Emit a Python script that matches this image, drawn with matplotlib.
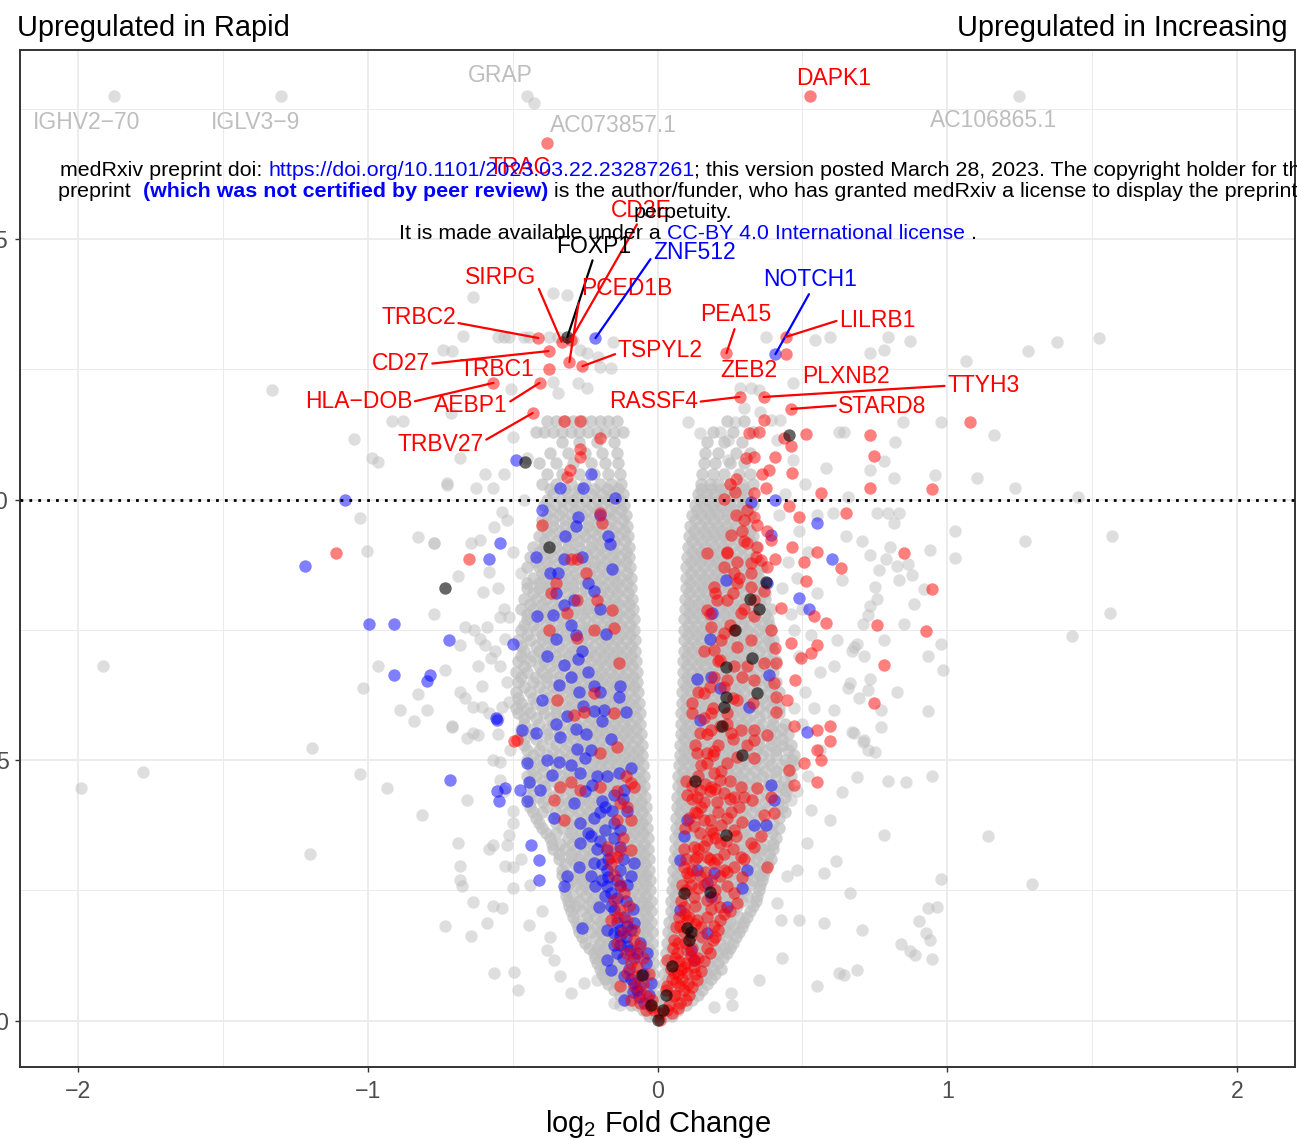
import numpy as np
import matplotlib
matplotlib.use("Agg")
import matplotlib.pyplot as plt

plt.rcParams["font.family"] = ["Liberation Sans", "DejaVu Sans"]
plt.rcParams["mathtext.default"] = "regular"

# ---------------- data ----------------
# bulk of the genes: one row per -log10(p) level, log2FC values of the left and right arm
core_p = [0.1, 0.3, 0.5, 0.7, 0.9, 1.1, 1.3, 1.5, 1.7, 1.9, 2.1, 2.3, 2.5, 2.7, 2.9,
          3.1, 3.3, 3.5, 3.7, 3.9, 4.1, 4.3, 4.5, 4.7, 4.9, 5.1, 5.3, 5.5, 5.7, 5.9,
          6.1, 6.3, 6.5, 6.7, 6.9, 7.1, 7.3, 7.5, 7.7, 7.9, 8.1, 8.3, 8.5, 8.7, 8.9,
          9.1, 9.3, 9.5, 9.7, 9.9, 10.1, 10.3, 10.5, 10.7, 10.9, 11.1, 11.3, 11.5]
core_left = [
    [-0.008, -0.03],
    [-0.012, -0.04, -0.07, -0.09],
    [-0.013, -0.04, -0.07, -0.10, -0.13],
    [-0.015, -0.045, -0.08, -0.11, -0.14, -0.17],
    [-0.016, -0.04, -0.07, -0.10, -0.13, -0.16, -0.19],
    [-0.017, -0.05, -0.08, -0.11, -0.14, -0.17, -0.21],
    [-0.018, -0.045, -0.075, -0.105, -0.135, -0.165, -0.195, -0.22],
    [-0.019, -0.05, -0.08, -0.11, -0.14, -0.17, -0.20, -0.25],
    [-0.02, -0.045, -0.075, -0.105, -0.135, -0.165, -0.195, -0.23, -0.27],
    [-0.021, -0.05, -0.08, -0.11, -0.14, -0.17, -0.20, -0.24, -0.28],
    [-0.022, -0.045, -0.075, -0.105, -0.135, -0.165, -0.195, -0.225, -0.26, -0.30],
    [-0.024, -0.05, -0.08, -0.11, -0.14, -0.17, -0.20, -0.23, -0.27, -0.31],
    [-0.025, -0.055, -0.085, -0.115, -0.145, -0.175, -0.205, -0.235, -0.265, -0.32],
    [-0.027, -0.05, -0.08, -0.11, -0.14, -0.17, -0.20, -0.23, -0.26, -0.29, -0.32],
    [-0.028, -0.055, -0.085, -0.115, -0.145, -0.175, -0.205, -0.235, -0.27, -0.33],
    [-0.03, -0.06, -0.09, -0.12, -0.15, -0.18, -0.21, -0.24, -0.27, -0.30, -0.34],
    [-0.032, -0.06, -0.09, -0.12, -0.15, -0.18, -0.21, -0.24, -0.28, -0.32, -0.36],
    [-0.034, -0.065, -0.095, -0.125, -0.155, -0.185, -0.215, -0.245, -0.275, -0.31, -0.37],
    [-0.036, -0.065, -0.095, -0.125, -0.155, -0.185, -0.215, -0.25, -0.29, -0.33, -0.40],
    [-0.038, -0.07, -0.10, -0.13, -0.16, -0.19, -0.22, -0.25, -0.28, -0.32, -0.36, -0.42],
    [-0.04, -0.07, -0.10, -0.13, -0.16, -0.19, -0.22, -0.25, -0.29, -0.33, -0.38, -0.44],
    [-0.043, -0.075, -0.105, -0.135, -0.165, -0.195, -0.225, -0.255, -0.285, -0.32, -0.36, -0.41, -0.45],
    [-0.045, -0.075, -0.105, -0.135, -0.165, -0.195, -0.225, -0.26, -0.30, -0.34, -0.39, -0.44],
    [-0.047, -0.08, -0.11, -0.14, -0.17, -0.20, -0.23, -0.26, -0.29, -0.33, -0.37, -0.42, -0.45],
    [-0.05, -0.08, -0.11, -0.14, -0.17, -0.20, -0.23, -0.27, -0.31, -0.35, -0.40, -0.44],
    [-0.052, -0.085, -0.115, -0.145, -0.175, -0.205, -0.235, -0.265, -0.30, -0.34, -0.38, -0.43],
    [-0.055, -0.085, -0.115, -0.145, -0.175, -0.205, -0.235, -0.27, -0.31, -0.35, -0.40, -0.46],
    [-0.057, -0.09, -0.12, -0.15, -0.18, -0.21, -0.24, -0.27, -0.30, -0.34, -0.38, -0.43, -0.47],
    [-0.06, -0.09, -0.12, -0.15, -0.18, -0.21, -0.24, -0.28, -0.32, -0.36, -0.41, -0.46],
    [-0.062, -0.095, -0.125, -0.155, -0.185, -0.215, -0.245, -0.275, -0.31, -0.35, -0.39, -0.44, -0.48],
    [-0.065, -0.095, -0.125, -0.155, -0.185, -0.215, -0.25, -0.29, -0.33, -0.37, -0.42, -0.47],
    [-0.067, -0.10, -0.13, -0.16, -0.19, -0.22, -0.25, -0.28, -0.31, -0.35, -0.39, -0.44, -0.49],
    [-0.07, -0.10, -0.13, -0.16, -0.19, -0.22, -0.26, -0.30, -0.34, -0.38, -0.43, -0.48],
    [-0.072, -0.105, -0.135, -0.165, -0.195, -0.225, -0.255, -0.285, -0.32, -0.36, -0.40, -0.45, -0.49],
    [-0.074, -0.105, -0.135, -0.165, -0.195, -0.23, -0.27, -0.31, -0.35, -0.39, -0.44, -0.48],
    [-0.076, -0.11, -0.14, -0.17, -0.20, -0.23, -0.26, -0.29, -0.33, -0.37, -0.41, -0.46],
    [-0.078, -0.11, -0.14, -0.17, -0.20, -0.24, -0.28, -0.32, -0.36, -0.40, -0.44, -0.48],
    [-0.08, -0.115, -0.145, -0.175, -0.205, -0.235, -0.265, -0.30, -0.34, -0.38, -0.42, -0.47],
    [-0.082, -0.115, -0.145, -0.175, -0.21, -0.25, -0.29, -0.33, -0.37, -0.41, -0.45],
    [-0.085, -0.12, -0.15, -0.18, -0.21, -0.24, -0.27, -0.31, -0.35, -0.39, -0.43, -0.47],
    [-0.087, -0.12, -0.15, -0.18, -0.22, -0.26, -0.30, -0.34, -0.38, -0.42, -0.46],
    [-0.09, -0.125, -0.155, -0.185, -0.215, -0.25, -0.29, -0.33, -0.37, -0.41, -0.45],
    [-0.092, -0.125, -0.155, -0.19, -0.23, -0.27, -0.31, -0.35, -0.39, -0.43],
    [-0.094, -0.13, -0.16, -0.19, -0.22, -0.25, -0.29, -0.33, -0.37, -0.41, -0.45],
    [-0.097, -0.13, -0.16, -0.20, -0.24, -0.28, -0.32, -0.36, -0.40, -0.44],
    [-0.10, -0.135, -0.165, -0.195, -0.23, -0.27, -0.31, -0.35, -0.39, -0.43],
    [-0.102, -0.135, -0.17, -0.21, -0.25, -0.29, -0.33, -0.37, -0.41],
    [-0.105, -0.14, -0.175, -0.21, -0.24, -0.28, -0.32, -0.36, -0.40],
    [-0.11, -0.145, -0.18, -0.22, -0.26, -0.30, -0.34, -0.38],
    [-0.115, -0.15, -0.19, -0.23, -0.27, -0.31, -0.35, -0.39],
    [-0.12, -0.155, -0.19, -0.23, -0.27, -0.31, -0.36],
    [-0.125, -0.16, -0.20, -0.25, -0.30, -0.35, -0.40],
    [-0.13, -0.17, -0.22, -0.27, -0.33, -0.38],
    [-0.135, -0.18, -0.23, -0.29, -0.35, -0.41],
    [-0.14, -0.19, -0.25, -0.31, -0.37],
    [-0.15, -0.21, -0.27, -0.33],
    [-0.12, -0.15, -0.18, -0.21, -0.24, -0.27, -0.30, -0.33, -0.36, -0.39, -0.42],
    [-0.14, -0.17, -0.20, -0.23, -0.26, -0.29, -0.32, -0.35, -0.38],
]
core_right = [
    [0.008, 0.03, 0.05],
    [0.012, 0.04, 0.07, 0.10],
    [0.015, 0.045, 0.075, 0.105, 0.14],
    [0.018, 0.045, 0.075, 0.105, 0.135, 0.17],
    [0.022, 0.05, 0.08, 0.11, 0.14, 0.17, 0.20],
    [0.026, 0.055, 0.085, 0.115, 0.145, 0.175, 0.21],
    [0.03, 0.06, 0.09, 0.12, 0.15, 0.18, 0.21, 0.24],
    [0.034, 0.065, 0.095, 0.125, 0.155, 0.185, 0.215, 0.26],
    [0.037, 0.065, 0.095, 0.125, 0.155, 0.185, 0.215, 0.245, 0.28],
    [0.041, 0.07, 0.10, 0.13, 0.16, 0.19, 0.22, 0.25, 0.30],
    [0.045, 0.075, 0.105, 0.135, 0.165, 0.195, 0.225, 0.26, 0.32],
    [0.048, 0.078, 0.108, 0.138, 0.168, 0.198, 0.228, 0.258, 0.29, 0.34],
    [0.05, 0.08, 0.11, 0.14, 0.17, 0.20, 0.23, 0.26, 0.30, 0.35],
    [0.053, 0.083, 0.113, 0.143, 0.173, 0.203, 0.233, 0.263, 0.293, 0.33, 0.36],
    [0.055, 0.085, 0.115, 0.145, 0.175, 0.205, 0.235, 0.265, 0.30, 0.34, 0.37],
    [0.057, 0.087, 0.117, 0.147, 0.177, 0.207, 0.237, 0.267, 0.30, 0.34, 0.39],
    [0.059, 0.09, 0.12, 0.15, 0.18, 0.21, 0.24, 0.27, 0.30, 0.33, 0.36, 0.40],
    [0.061, 0.09, 0.12, 0.15, 0.18, 0.21, 0.24, 0.27, 0.31, 0.35, 0.41],
    [0.063, 0.093, 0.123, 0.153, 0.183, 0.213, 0.243, 0.273, 0.303, 0.34, 0.38, 0.42],
    [0.065, 0.095, 0.125, 0.155, 0.185, 0.215, 0.245, 0.275, 0.31, 0.35, 0.42],
    [0.067, 0.097, 0.127, 0.157, 0.187, 0.217, 0.247, 0.277, 0.307, 0.34, 0.38, 0.43],
    [0.069, 0.10, 0.13, 0.16, 0.19, 0.22, 0.25, 0.28, 0.31, 0.35, 0.39, 0.44],
    [0.07, 0.10, 0.13, 0.16, 0.19, 0.22, 0.25, 0.28, 0.31, 0.34, 0.38, 0.42, 0.45],
    [0.072, 0.102, 0.132, 0.162, 0.192, 0.222, 0.252, 0.282, 0.32, 0.36, 0.41, 0.46],
    [0.074, 0.104, 0.134, 0.164, 0.194, 0.224, 0.254, 0.284, 0.314, 0.35, 0.39, 0.43, 0.47],
    [0.076, 0.106, 0.136, 0.166, 0.196, 0.226, 0.256, 0.286, 0.32, 0.36, 0.41, 0.47],
    [0.078, 0.108, 0.138, 0.168, 0.198, 0.228, 0.258, 0.288, 0.32, 0.35, 0.39, 0.43, 0.46],
    [0.08, 0.11, 0.14, 0.17, 0.20, 0.23, 0.26, 0.29, 0.33, 0.37, 0.41, 0.45],
    [0.081, 0.11, 0.14, 0.17, 0.20, 0.23, 0.26, 0.29, 0.32, 0.36, 0.40, 0.44],
    [0.082, 0.112, 0.142, 0.172, 0.202, 0.232, 0.262, 0.292, 0.33, 0.37, 0.42],
    [0.084, 0.114, 0.144, 0.174, 0.204, 0.234, 0.264, 0.294, 0.33, 0.37, 0.41],
    [0.086, 0.116, 0.146, 0.176, 0.206, 0.236, 0.266, 0.30, 0.34, 0.38, 0.42],
    [0.087, 0.117, 0.147, 0.177, 0.207, 0.237, 0.267, 0.30, 0.34, 0.38, 0.41],
    [0.088, 0.118, 0.148, 0.178, 0.208, 0.238, 0.27, 0.31, 0.35, 0.40],
    [0.089, 0.12, 0.15, 0.18, 0.21, 0.24, 0.27, 0.30, 0.34, 0.38, 0.41],
    [0.09, 0.12, 0.15, 0.18, 0.21, 0.24, 0.27, 0.31, 0.35, 0.40],
    [0.091, 0.121, 0.151, 0.181, 0.211, 0.241, 0.271, 0.30, 0.34, 0.38, 0.40],
    [0.092, 0.122, 0.152, 0.182, 0.212, 0.242, 0.272, 0.31, 0.35, 0.39],
    [0.093, 0.123, 0.153, 0.183, 0.213, 0.243, 0.273, 0.30, 0.34, 0.38],
    [0.094, 0.124, 0.154, 0.184, 0.214, 0.244, 0.274, 0.31, 0.35, 0.39],
    [0.095, 0.125, 0.155, 0.185, 0.215, 0.245, 0.275, 0.31, 0.34, 0.37],
    [0.097, 0.127, 0.157, 0.187, 0.217, 0.247, 0.28, 0.32, 0.36],
    [0.099, 0.13, 0.16, 0.19, 0.22, 0.25, 0.28, 0.31, 0.35],
    [0.10, 0.13, 0.16, 0.19, 0.22, 0.25, 0.28, 0.32, 0.36],
    [0.102, 0.132, 0.162, 0.192, 0.222, 0.252, 0.29, 0.33],
    [0.105, 0.135, 0.165, 0.195, 0.225, 0.255, 0.29, 0.34],
    [0.108, 0.14, 0.17, 0.20, 0.23, 0.26, 0.30, 0.33],
    [0.112, 0.145, 0.175, 0.205, 0.235, 0.27, 0.31],
    [0.12, 0.15, 0.18, 0.21, 0.24, 0.28, 0.32],
    [0.13, 0.16, 0.19, 0.22, 0.25, 0.29, 0.33],
    [0.14, 0.17, 0.20, 0.23, 0.27, 0.31],
    [0.15, 0.18, 0.21, 0.25, 0.29, 0.33],
    [0.155, 0.19, 0.23, 0.28, 0.32],
    [0.16, 0.20, 0.25, 0.30],
    [0.165, 0.21, 0.27, 0.32],
    [0.17, 0.23, 0.29],
    [0.19, 0.26, 0.33],
    [0.24, 0.30],
]

# second, interleaved set of rows of the bulk
core2_p = [0.2, 0.4, 0.6, 0.8, 1.0, 1.2, 1.4, 1.6, 1.8, 2.0, 2.2, 2.4, 2.6, 2.8, 3.0, 3.2, 3.4,
           3.6, 3.8, 4.0, 4.2, 4.4, 4.6, 4.8, 5.0, 5.2, 5.4, 5.6, 5.8, 6.0, 6.2, 6.4, 6.6, 6.8,
           7.0, 7.2, 7.4, 7.6, 7.8, 8.0, 8.2, 8.4, 8.6, 8.8, 9.0, 9.2, 9.4, 9.6, 9.8, 10.0, 10.2]
core2_left = [
    [-0.02, -0.05],
    [-0.025, -0.055, -0.085, -0.11],
    [-0.03, -0.06, -0.09, -0.12, -0.15],
    [-0.03, -0.06, -0.09, -0.12, -0.15, -0.18],
    [-0.03, -0.06, -0.09, -0.12, -0.15, -0.18, -0.20],
    [-0.032, -0.065, -0.095, -0.125, -0.155, -0.185, -0.215],
    [-0.033, -0.06, -0.09, -0.12, -0.15, -0.18, -0.21, -0.235],
    [-0.035, -0.065, -0.095, -0.125, -0.155, -0.185, -0.215, -0.26],
    [-0.035, -0.06, -0.09, -0.12, -0.15, -0.18, -0.21, -0.25, -0.275],
    [-0.036, -0.065, -0.095, -0.125, -0.155, -0.185, -0.215, -0.245, -0.29],
    [-0.036, -0.06, -0.09, -0.12, -0.15, -0.18, -0.21, -0.24, -0.28, -0.305],
    [-0.038, -0.065, -0.095, -0.125, -0.155, -0.185, -0.215, -0.25, -0.29, -0.315],
    [-0.04, -0.07, -0.10, -0.13, -0.16, -0.19, -0.22, -0.25, -0.28, -0.31],
    [-0.041, -0.065, -0.095, -0.125, -0.155, -0.185, -0.215, -0.245, -0.275, -0.305, -0.33],
    [-0.042, -0.07, -0.10, -0.13, -0.16, -0.19, -0.22, -0.25, -0.285, -0.32],
    [-0.045, -0.075, -0.105, -0.135, -0.165, -0.195, -0.225, -0.26, -0.30, -0.34],
    [-0.047, -0.075, -0.105, -0.135, -0.165, -0.195, -0.225, -0.26, -0.295, -0.335, -0.365],
    [-0.05, -0.08, -0.11, -0.14, -0.17, -0.20, -0.23, -0.265, -0.30, -0.35, -0.385],
    [-0.052, -0.08, -0.11, -0.14, -0.17, -0.20, -0.235, -0.27, -0.31, -0.35, -0.41],
    [-0.054, -0.085, -0.115, -0.145, -0.175, -0.205, -0.235, -0.27, -0.31, -0.35, -0.40, -0.43],
    [-0.056, -0.085, -0.115, -0.145, -0.175, -0.205, -0.235, -0.27, -0.305, -0.345, -0.395, -0.44],
    [-0.058, -0.09, -0.12, -0.15, -0.18, -0.21, -0.24, -0.27, -0.30, -0.34, -0.385, -0.43],
    [-0.06, -0.09, -0.12, -0.15, -0.18, -0.21, -0.245, -0.28, -0.32, -0.36, -0.40, -0.44],
    [-0.064, -0.095, -0.125, -0.155, -0.185, -0.215, -0.245, -0.28, -0.31, -0.35, -0.39, -0.43],
    [-0.066, -0.10, -0.13, -0.16, -0.19, -0.22, -0.25, -0.285, -0.32, -0.36, -0.41, -0.45],
    [-0.068, -0.10, -0.13, -0.16, -0.19, -0.22, -0.25, -0.285, -0.32, -0.36, -0.41, -0.45],
    [-0.07, -0.105, -0.135, -0.165, -0.195, -0.225, -0.255, -0.29, -0.33, -0.37, -0.42, -0.46],
    [-0.073, -0.105, -0.135, -0.165, -0.195, -0.225, -0.26, -0.30, -0.34, -0.38, -0.43, -0.47],
    [-0.075, -0.11, -0.14, -0.17, -0.20, -0.23, -0.26, -0.295, -0.33, -0.37, -0.42, -0.46],
    [-0.078, -0.11, -0.14, -0.17, -0.20, -0.23, -0.27, -0.31, -0.35, -0.40, -0.45, -0.49],
    [-0.08, -0.115, -0.145, -0.175, -0.205, -0.235, -0.265, -0.30, -0.34, -0.38, -0.43, -0.48],
    [-0.082, -0.115, -0.145, -0.175, -0.205, -0.24, -0.28, -0.32, -0.36, -0.41, -0.46],
    [-0.085, -0.12, -0.15, -0.18, -0.21, -0.24, -0.27, -0.30, -0.34, -0.38, -0.42, -0.47],
    [-0.087, -0.12, -0.15, -0.18, -0.21, -0.25, -0.29, -0.33, -0.37, -0.41, -0.46],
    [-0.09, -0.125, -0.155, -0.185, -0.215, -0.245, -0.275, -0.31, -0.35, -0.39, -0.43, -0.47],
    [-0.092, -0.125, -0.155, -0.185, -0.22, -0.26, -0.30, -0.34, -0.38, -0.42, -0.47],
    [-0.094, -0.13, -0.16, -0.19, -0.22, -0.25, -0.28, -0.32, -0.36, -0.40, -0.45],
    [-0.096, -0.13, -0.16, -0.19, -0.225, -0.265, -0.305, -0.345, -0.385, -0.43, -0.46],
    [-0.098, -0.135, -0.165, -0.195, -0.225, -0.26, -0.295, -0.33, -0.37, -0.41, -0.45],
    [-0.10, -0.135, -0.165, -0.20, -0.24, -0.28, -0.32, -0.36, -0.40, -0.44],
    [-0.102, -0.14, -0.17, -0.20, -0.235, -0.27, -0.31, -0.35, -0.39, -0.43],
    [-0.104, -0.14, -0.17, -0.21, -0.25, -0.29, -0.33, -0.37, -0.41, -0.45],
    [-0.106, -0.145, -0.175, -0.205, -0.24, -0.28, -0.32, -0.36, -0.40],
    [-0.108, -0.145, -0.18, -0.22, -0.26, -0.30, -0.34, -0.38, -0.42],
    [-0.11, -0.15, -0.18, -0.215, -0.25, -0.29, -0.33, -0.37, -0.41],
    [-0.113, -0.15, -0.19, -0.23, -0.27, -0.31, -0.35, -0.39],
    [-0.116, -0.155, -0.19, -0.225, -0.26, -0.30, -0.34, -0.38],
    [-0.12, -0.16, -0.20, -0.24, -0.28, -0.32, -0.36, -0.40],
    [-0.125, -0.165, -0.205, -0.245, -0.285, -0.33, -0.37],
    [-0.13, -0.17, -0.21, -0.25, -0.29, -0.33, -0.38],
    [-0.135, -0.175, -0.22, -0.27, -0.32, -0.37],
]
core2_right = [
    [0.02, 0.045, 0.07],
    [0.025, 0.055, 0.085, 0.12],
    [0.03, 0.06, 0.09, 0.12, 0.155],
    [0.035, 0.065, 0.095, 0.125, 0.155, 0.185],
    [0.04, 0.07, 0.10, 0.13, 0.16, 0.19, 0.22],
    [0.043, 0.07, 0.10, 0.13, 0.16, 0.19, 0.225],
    [0.047, 0.075, 0.105, 0.135, 0.165, 0.195, 0.23, 0.25],
    [0.05, 0.08, 0.11, 0.14, 0.17, 0.20, 0.235, 0.27],
    [0.053, 0.08, 0.11, 0.14, 0.17, 0.20, 0.23, 0.265, 0.29],
    [0.056, 0.085, 0.115, 0.145, 0.175, 0.205, 0.24, 0.28, 0.31],
    [0.06, 0.09, 0.12, 0.15, 0.18, 0.21, 0.24, 0.275, 0.33],
    [0.062, 0.093, 0.123, 0.153, 0.183, 0.213, 0.243, 0.275, 0.31, 0.345],
    [0.065, 0.095, 0.125, 0.155, 0.185, 0.215, 0.245, 0.28, 0.32, 0.355],
    [0.067, 0.098, 0.128, 0.158, 0.188, 0.218, 0.248, 0.278, 0.31, 0.35, 0.365],
    [0.069, 0.10, 0.13, 0.16, 0.19, 0.22, 0.25, 0.28, 0.32, 0.36, 0.38],
    [0.071, 0.10, 0.13, 0.16, 0.19, 0.22, 0.25, 0.285, 0.32, 0.35, 0.385],
    [0.073, 0.105, 0.135, 0.165, 0.195, 0.225, 0.255, 0.29, 0.33, 0.37, 0.40],
    [0.075, 0.107, 0.137, 0.167, 0.197, 0.227, 0.257, 0.29, 0.32, 0.36, 0.395],
    [0.077, 0.108, 0.138, 0.168, 0.198, 0.228, 0.258, 0.29, 0.33, 0.37, 0.40],
    [0.079, 0.11, 0.14, 0.17, 0.20, 0.23, 0.26, 0.29, 0.325, 0.36, 0.405, 0.44],
    [0.081, 0.112, 0.142, 0.172, 0.202, 0.232, 0.262, 0.295, 0.33, 0.37, 0.415],
    [0.083, 0.115, 0.145, 0.175, 0.205, 0.235, 0.265, 0.295, 0.33, 0.37, 0.41, 0.445],
    [0.085, 0.117, 0.147, 0.177, 0.207, 0.237, 0.267, 0.30, 0.34, 0.385, 0.435],
    [0.087, 0.12, 0.15, 0.18, 0.21, 0.24, 0.27, 0.30, 0.335, 0.37, 0.41, 0.45],
    [0.089, 0.12, 0.15, 0.18, 0.21, 0.24, 0.27, 0.30, 0.34, 0.385, 0.44, 0.465],
    [0.091, 0.122, 0.152, 0.182, 0.212, 0.242, 0.272, 0.305, 0.34, 0.37, 0.41, 0.45],
    [0.093, 0.125, 0.155, 0.185, 0.215, 0.245, 0.275, 0.31, 0.35, 0.39, 0.43],
    [0.095, 0.125, 0.155, 0.185, 0.215, 0.245, 0.275, 0.31, 0.35, 0.39, 0.43],
    [0.096, 0.127, 0.157, 0.187, 0.217, 0.247, 0.277, 0.31, 0.35, 0.40],
    [0.098, 0.13, 0.16, 0.19, 0.22, 0.25, 0.28, 0.31, 0.35, 0.39, 0.42],
    [0.099, 0.13, 0.16, 0.19, 0.22, 0.25, 0.28, 0.32, 0.36, 0.40],
    [0.10, 0.132, 0.162, 0.192, 0.222, 0.252, 0.285, 0.32, 0.36, 0.395],
    [0.101, 0.133, 0.163, 0.193, 0.223, 0.253, 0.29, 0.33, 0.375],
    [0.102, 0.135, 0.165, 0.195, 0.225, 0.255, 0.285, 0.32, 0.36, 0.395],
    [0.103, 0.135, 0.165, 0.195, 0.225, 0.255, 0.29, 0.33, 0.375],
    [0.104, 0.136, 0.166, 0.196, 0.226, 0.256, 0.285, 0.32, 0.36, 0.39],
    [0.105, 0.137, 0.167, 0.197, 0.227, 0.257, 0.29, 0.33, 0.37],
    [0.106, 0.138, 0.168, 0.198, 0.228, 0.258, 0.29, 0.32, 0.36, 0.385],
    [0.107, 0.14, 0.17, 0.20, 0.23, 0.26, 0.29, 0.33, 0.37],
    [0.108, 0.14, 0.17, 0.20, 0.23, 0.26, 0.29, 0.325, 0.355],
    [0.11, 0.142, 0.172, 0.202, 0.232, 0.262, 0.30, 0.34, 0.37],
    [0.112, 0.145, 0.175, 0.205, 0.235, 0.265, 0.30, 0.335],
    [0.114, 0.145, 0.175, 0.205, 0.235, 0.265, 0.30, 0.34],
    [0.116, 0.147, 0.177, 0.207, 0.237, 0.27, 0.31, 0.35],
    [0.118, 0.15, 0.18, 0.21, 0.24, 0.275, 0.315],
    [0.12, 0.155, 0.185, 0.215, 0.245, 0.28, 0.32],
    [0.125, 0.16, 0.19, 0.22, 0.25, 0.285, 0.32],
    [0.13, 0.165, 0.195, 0.225, 0.26, 0.30],
    [0.137, 0.17, 0.20, 0.235, 0.27, 0.31],
    [0.145, 0.175, 0.21, 0.25, 0.29],
    [0.15, 0.185, 0.22, 0.26, 0.30],
]

# scattered non-significant genes (log2FC, -log10 p)
grey_pts = [
    (-1.329, 12.10), (-0.915, 11.51), (-0.877, 11.51), (-1.049, 11.16), (-0.984, 10.80), (-0.963, 10.72),
    (-0.714, 11.66), (-0.680, 10.80), (-0.594, 10.49), (-0.725, 10.28), (-0.628, 10.22), (-0.566, 10.22),
    (-0.531, 10.49), (-0.497, 11.20), (-1.025, 9.65), (-0.825, 9.28), (-0.773, 9.17), (-1.001, 9.02),
    (-0.645, 9.17), (-0.611, 9.23), (-0.583, 8.61), (-0.690, 8.54), (-0.601, 8.23), (-0.773, 7.81),
    (-0.663, 7.56), (-0.587, 7.56), (-0.542, 7.75), (-0.514, 7.75), (-0.611, 7.33), (-0.680, 7.21),
    (-0.594, 7.21), (-0.525, 7.33), (-1.915, 6.81), (-0.966, 6.81), (-0.735, 6.73), (-0.618, 6.81),
    (-0.576, 6.96), (-0.542, 6.81), (-1.015, 6.39), (-0.825, 6.27), (-0.680, 6.31), (-0.663, 6.20),
    (-0.635, 6.02), (-0.604, 6.02), (-0.583, 5.91), (-0.535, 6.02), (-0.514, 6.12), (-0.887, 5.97),
    (-0.794, 5.97), (-0.842, 5.75), (-0.708, 5.64), (-0.638, 5.52), (-0.656, 5.43), (-0.618, 5.49),
    (-0.552, 5.51), (-1.191, 5.24), (-0.566, 5.01), (-0.542, 4.97), (-1.777, 4.78), (-1.028, 4.74),
    (-1.988, 4.47), (-0.932, 4.47), (-0.656, 4.24), (-0.542, 4.62), (-0.814, 3.95), (-0.497, 4.03),
    (-0.514, 3.57), (-0.687, 3.41), (-0.583, 3.30), (-0.566, 3.38), (-0.518, 3.38), (-1.198, 3.20),
    (-0.683, 2.97), (-0.525, 2.97), (-0.497, 2.95), (-0.680, 2.70), (-0.673, 2.59), (-0.497, 2.55),
    (-0.638, 2.28), (-0.566, 2.21), (-0.535, 2.17), (-0.732, 1.82), (-0.587, 1.88), (-0.645, 1.63),
    (-0.563, 0.92), (-0.494, 0.94), (-0.483, 0.59), (-0.709, 5.65), (-0.444, 1.84), (-0.381, 1.36),
    (-0.358, 1.17), (-0.335, 0.85), (-0.30, 0.53), (-0.254, 0.72), (-0.208, 0.79), (-0.151, 0.34),
    (-0.128, 0.31), (-0.772, 9.16), (-0.726, 10.31), (-0.536, 9.77), (-0.565, 9.48), (-0.634, 7.50),
    (-0.605, 6.42), (-0.52, 9.6), (-0.50, 9.0), (-0.55, 8.3), (-0.53, 7.9), (-0.56, 7.1), (-0.52, 6.5),
    (-0.55, 5.8), (-0.51, 5.2), (-0.53, 4.4), (-0.50, 3.8), (-0.47, 3.1), (-0.44, 2.6), (-0.40, 2.1),
    (-0.37, 1.6), (-0.47, 8.6), (-0.46, 10.0), (-0.45, 10.8),
    (-0.635, 13.89), (-0.359, 13.97), (-0.311, 13.93), (-0.670, 13.14), (-0.552, 13.12), (-0.531, 13.12),
    (-0.511, 13.12), (-0.462, 13.12), (-0.445, 13.12), (-0.373, 13.12), (-0.345, 13.12), (-0.290, 13.06),
    (-0.739, 12.87), (-0.708, 12.85), (-0.266, 12.87), (-0.242, 12.81), (-0.155, 13.03), (-0.207, 12.74),
    (-0.162, 12.53), (-0.197, 12.55), (-0.362, 12.26), (-0.345, 12.05), (-0.273, 12.24), (-0.245, 12.14),
    (-0.507, 12.12),
    (0.373, 13.12), (0.545, 13.06), (0.597, 13.12), (0.794, 13.12), (0.873, 13.04), (0.735, 12.81),
    (0.780, 12.87), (1.063, 12.66), (1.277, 12.85), (1.380, 13.03), (1.525, 13.10), (0.469, 12.24),
    (0.286, 12.14), (0.321, 12.14), (0.349, 12.10), (0.297, 11.76), (0.355, 11.68), (0.424, 11.53),
    (0.390, 11.53), (0.269, 11.49), (0.217, 11.30), (0.148, 11.28), (0.104, 11.49), (0.242, 11.15),
    (0.414, 11.15), (0.469, 10.76), (0.245, 10.76), (0.625, 11.30), (0.821, 11.11), (0.846, 11.49),
    (0.977, 11.49), (1.160, 11.24), (1.232, 10.22), (1.45, 10.05), (0.783, 10.74), (0.735, 10.57),
    (0.815, 10.42), (0.959, 10.47), (1.101, 10.42), (0.659, 10.05), (0.759, 9.74), (0.794, 9.74),
    (0.835, 9.74), (0.607, 9.74), (0.815, 9.55), (1.025, 9.40), (1.267, 9.21), (1.570, 9.30),
    (0.649, 9.30), (0.704, 9.21), (0.939, 9.04), (1.028, 8.88), (0.735, 8.94), (0.766, 8.65),
    (0.790, 8.86), (0.828, 8.73), (0.863, 8.77), (0.877, 8.56), (0.835, 8.46), (0.918, 8.29),
    (0.749, 8.33), (0.759, 8.10), (0.884, 8.00), (1.563, 7.83), (0.725, 7.79), (0.708, 7.62),
    (0.849, 7.62), (1.432, 7.39), (0.980, 7.23), (0.780, 7.31), (0.690, 7.23), (0.670, 7.10),
    (0.932, 7.00), (0.984, 6.73), (0.735, 6.56), (0.828, 6.31), (0.659, 6.39), (0.725, 6.35),
    (0.697, 6.20), (0.932, 5.95), (0.770, 5.64), (0.670, 5.54), (0.708, 5.35), (0.728, 5.20),
    (0.749, 5.16), (0.687, 4.68), (0.797, 4.60), (0.859, 4.58), (0.949, 4.70), (0.635, 4.39),
    (0.780, 3.57), (1.139, 3.55), (0.663, 2.46), (0.977, 2.72), (1.291, 2.63), (0.576, 1.88),
    (0.704, 1.75), (0.904, 1.92), (0.935, 2.17), (0.963, 2.19), (0.928, 1.69), (0.939, 1.55),
    (0.842, 1.48), (0.870, 1.34), (0.887, 1.27), (0.946, 1.19), (0.625, 0.92), (0.645, 0.88),
    (0.690, 0.98), (0.552, 0.67), (0.678, 5.52), (0.712, 5.39), (0.43, 1.20), (0.488, 1.94),
    (0.425, 1.94), (0.413, 2.26), (0.448, 2.77), (0.482, 2.90), (0.574, 2.83), (0.615, 3.06),
    (0.517, 3.41), (0.597, 3.86), (0.459, 4.24), (0.528, 4.05), (0.35, 0.79), (0.252, 0.53),
    (0.258, 0.31), (0.194, 0.27), (0.804, 9.10), (0.637, 8.46), (0.735, 7.95), (0.62, 7.31),
    (0.678, 7.18), (0.609, 6.80), (0.712, 6.99), (0.666, 6.48), (0.609, 5.97), (0.77, 5.97),
    (0.645, 11.3), (0.49, 9.4), (0.52, 9.0), (0.48, 8.5), (0.55, 8.2), (0.50, 7.9), (0.47, 7.5),
    (0.53, 7.4), (0.49, 7.0), (0.56, 6.7), (0.51, 6.3), (0.47, 6.0), (0.54, 6.0), (0.50, 5.7),
    (0.56, 5.2), (0.52, 4.7), (0.48, 4.4), (0.55, 9.7), (0.51, 10.3), (0.58, 10.6), (0.44, 10.1),
    (0.42, 9.7), (0.45, 8.8), (0.43, 8.3), (0.46, 7.8),
]

# significant, up in Increasing
red_pts = [
    (0.217, 5.65), (0.183, 5.58), (0.252, 5.52), (0.287, 5.58), (0.333, 5.58), (0.379, 5.49), (0.333, 5.39),
    (0.471, 5.65), (0.551, 5.58), (0.597, 5.65), (0.597, 5.36), (0.551, 5.20), (0.563, 5.01), (0.505, 4.94),
    (0.453, 4.81), (0.471, 4.53), (0.551, 4.59), (0.148, 5.52), (0.137, 5.13), (0.171, 5.13), (0.194, 5.17),
    (0.24, 4.94), (0.275, 5.07), (0.333, 5.04), (0.194, 4.75), (0.217, 4.62), (0.183, 4.49), (0.148, 4.43),
    (0.229, 4.37), (0.264, 4.30), (0.287, 4.49), (0.344, 4.46), (0.327, 4.24), (0.39, 4.30), (0.402, 3.98),
    (0.367, 3.95), (0.102, 4.34), (0.137, 4.30), (0.137, 3.98), (0.16, 3.86), (0.125, 3.73), (0.148, 3.60),
    (0.183, 3.66), (0.171, 3.47), (0.217, 3.41), (0.264, 3.66), (0.292, 3.82), (0.321, 3.41), (0.333, 3.34),
    (0.356, 3.54), (0.379, 2.96), (0.125, 3.34), (0.137, 3.15), (0.171, 3.15), (0.194, 3.02), (0.229, 2.90),
    (0.264, 2.96), (0.287, 3.15), (0.102, 2.83), (0.148, 2.77), (0.183, 2.70), (0.217, 2.77), (0.24, 2.58),
    (0.264, 2.45), (0.275, 2.26), (0.217, 2.19), (0.171, 2.32), (0.125, 2.38), (0.091, 2.19), (0.102, 1.94),
    (0.137, 1.94), (0.171, 2.00), (0.194, 1.81), (0.217, 1.94), (0.079, 1.81), (0.114, 1.62), (0.056, 1.55),
    (0.068, 1.30), (0.102, 1.36), (0.125, 1.17), (0.091, 1.04), (0.056, 0.91), (0.033, 0.66), (0.056, 0.47),
    (0.079, 0.34), (0.033, 0.21), (0.01, 0.15), (0.01, 0.02), (-0.013, 0.21), (0.102, 0.91), (0.125, 1.04),
    (0.137, 0.79), (0.079, 0.66), (0.033, 1.17),
    (-0.036, 0.47), (-0.024, 0.27), (-0.059, 0.53), (-0.082, 0.66), (-0.093, 0.40), (-0.128, 0.66),
    (-0.105, 0.91), (-0.07, 1.04), (-0.082, 1.30), (-0.059, 1.43), (-0.082, 1.75), (-0.105, 1.94),
    (-0.128, 2.13), (-0.151, 2.32), (-0.162, 1.94), (-0.139, 1.49), (-0.116, 2.45), (-0.128, 3.28),
    (-0.139, 3.15), (-0.162, 3.15), (-0.174, 3.34), (-0.093, 3.28), (-0.128, 4.18), (-0.139, 3.86),
    (-0.093, 3.86), (-0.105, 4.11), (-0.082, 4.49), (-0.093, 4.56), (-0.197, 4.49), (-0.266, 4.43),
    (-0.30, 4.59), (-0.335, 4.49), (-0.358, 4.24), (-0.323, 3.86), (-0.139, 5.26), (-0.197, 5.13),
    (-0.484, 5.39),
    (0.367, 11.52), (0.35, 11.30), (0.315, 11.27), (0.436, 11.18), (0.459, 11.02), (0.304, 10.79),
    (0.333, 10.82), (0.404, 10.82), (0.384, 10.57), (0.465, 10.51), (0.373, 10.22), (0.333, 10.12),
    (0.269, 10.15), (0.229, 10.01), (0.563, 10.12), (0.735, 11.24), (0.747, 10.84), (0.735, 10.22),
    (0.649, 9.74), (0.453, 9.87), (0.488, 9.66), (0.31, 9.80), (0.333, 9.67), (0.344, 9.51), (0.292, 9.39),
    (0.252, 9.32), (0.379, 9.39), (0.31, 9.16), (0.344, 9.10), (0.39, 9.23), (0.465, 9.10), (0.551, 9.00),
    (0.505, 8.81), (0.407, 8.86), (0.356, 8.84), (0.321, 8.78), (0.275, 8.81), (0.171, 8.97), (0.24, 8.97),
    (0.264, 8.59), (0.321, 8.59), (0.379, 8.71), (0.632, 8.68), (0.511, 8.43), (0.194, 8.33), (0.275, 8.40),
    (0.321, 8.33), (0.367, 8.24), (0.333, 8.08), (0.206, 8.08), (0.24, 8.08), (0.171, 7.88), (0.425, 7.92),
    (0.287, 7.82), (0.333, 7.76), (0.54, 7.76), (0.58, 7.63), (0.183, 7.56), (0.229, 7.44), (0.264, 7.50),
    (0.39, 7.50), (0.321, 7.31), (0.275, 7.18), (0.194, 7.12), (0.407, 7.15), (0.459, 7.24), (0.551, 7.21),
    (0.528, 7.05), (0.494, 6.96), (0.758, 7.60), (0.781, 6.83), (0.217, 6.92), (0.264, 6.80), (0.31, 6.80),
    (0.367, 6.86), (0.41, 6.86), (0.194, 6.60), (0.24, 6.54), (0.333, 6.54), (0.402, 6.48), (0.476, 6.54),
    (0.16, 6.29), (0.275, 6.16), (0.41, 6.22), (0.447, 6.16), (0.747, 6.09), (0.183, 5.90), (0.24, 5.90),
    (0.41, 5.93), (1.080, 11.49), (0.949, 10.21), (0.849, 8.98), (0.949, 8.29), (0.928, 7.48),
    (-0.323, 11.50), (-0.266, 11.50), (-0.20, 11.18), (-0.266, 10.98), (-0.266, 10.82), (-0.303, 10.57),
    (-0.312, 10.43), (-0.20, 9.74), (-0.191, 9.56), (-0.398, 9.51), (-0.651, 8.86), (-0.30, 8.87),
    (-0.277, 8.87), (-0.246, 8.59), (-0.352, 8.40), (-0.369, 8.20), (-0.277, 8.08), (-0.208, 8.08),
    (-0.157, 7.88), (-0.312, 7.82), (-0.22, 7.50), (-0.151, 7.53), (-0.375, 7.50), (-0.277, 7.34),
    (-0.133, 6.86), (-0.346, 6.16), (-0.151, 5.90), (-0.254, 5.93), (-0.22, 6.29), (-0.289, 5.87),
    (-1.108, 8.98), (-0.494, 5.37),
    (0.04, 0.3), (0.06, 0.5), (0.05, 0.8), (0.07, 0.9), (0.09, 0.6), (0.06, 1.2), (0.08, 1.0), (0.10, 1.1),
    (0.07, 1.5), (0.09, 1.7), (0.12, 1.4), (0.14, 1.2), (0.11, 2.0), (0.08, 2.3), (0.10, 2.5), (0.13, 2.2),
    (0.15, 1.8), (0.16, 2.6), (0.12, 2.9), (0.10, 3.1), (0.14, 3.3), (0.18, 3.1), (0.20, 2.5), (0.19, 3.6),
    (0.11, 3.9), (0.13, 4.0), (0.16, 4.2), (0.21, 4.0), (0.24, 3.9), (0.18, 4.4), (0.26, 3.3), (0.23, 3.2),
    (0.20, 1.6), (0.17, 1.4), (0.13, 0.9), (0.11, 0.5), (0.03, 0.6), (0.045, 1.0), (0.055, 1.4),
    (0.065, 1.8), (0.075, 2.0), (0.085, 2.6), (0.09, 3.3), (0.095, 3.7), (0.12, 4.5), (0.15, 4.9),
    (0.19, 5.1), (0.22, 4.8), (0.25, 4.6), (0.28, 4.1), (0.30, 4.3), (0.31, 5.3), (0.26, 5.4), (0.17, 5.5),
    (0.12, 5.9), (0.14, 6.3), (0.19, 6.0), (0.23, 6.4), (0.29, 6.6), (0.33, 6.1), (0.21, 6.9), (0.16, 7.1),
    (0.25, 7.6), (0.30, 7.9), (0.20, 8.2), (0.28, 8.5), (0.34, 8.9), (0.24, 9.0), (0.30, 9.6), (0.27, 10.4),
    (0.36, 10.5),
    (0.05, 0.15), (0.07, 0.25), (0.10, 0.4), (0.12, 0.65), (0.15, 0.95), (0.16, 1.15), (0.18, 1.3),
    (0.19, 1.55), (0.21, 1.75), (0.23, 2.05), (0.25, 2.1), (0.20, 2.35), (0.14, 2.55), (0.11, 2.75),
    (0.09, 2.95), (0.13, 3.1), (0.16, 3.35), (0.20, 3.5), (0.22, 3.75), (0.18, 3.85), (0.15, 4.1),
    (0.12, 4.25), (0.10, 4.6), (0.14, 4.7), (0.17, 4.95), (0.20, 4.45), (0.25, 4.25), (0.27, 3.55),
    (0.29, 2.75), (0.30, 3.1), (0.24, 2.85), (0.185, 2.15), (0.155, 1.6), (0.13, 1.85), (0.095, 1.5),
    (0.075, 1.15), (0.065, 0.75), (0.085, 0.8), (0.105, 0.7), (0.115, 1.25), (0.095, 2.05), (0.115, 2.6),
    (0.165, 2.85), (0.205, 3.1), (0.235, 3.45), (0.255, 4.0), (0.205, 4.2), (0.165, 4.55), (0.13, 5.3),
    (0.21, 5.3), (0.24, 5.7), (0.16, 5.8), (0.12, 6.1), (0.18, 6.4), (0.26, 6.2), (0.22, 7.3), (0.18, 7.8),
    (0.26, 8.2), (0.23, 8.7), (0.30, 9.2), (0.27, 9.7), (0.25, 10.3),
    (-0.02, 0.4), (-0.04, 0.2), (-0.06, 0.35), (-0.05, 0.7), (-0.03, 0.9), (-0.07, 0.85), (-0.09, 1.1),
    (-0.05, 1.2), (-0.11, 1.3), (-0.08, 1.55), (-0.12, 1.7), (-0.10, 2.2), (-0.14, 2.0), (-0.13, 2.6),
    (-0.15, 2.8), (-0.16, 3.0), (-0.12, 3.5), (-0.14, 4.4), (-0.11, 4.7),
]

# significant, up in Rapid
blue_pts = [
    (-0.553, 5.77), (-0.467, 5.58), (-0.421, 5.53), (-0.335, 5.45), (-0.246, 5.50), (-0.277, 5.21),
    (-0.341, 4.97), (-0.381, 5.01), (-0.45, 4.94), (-0.444, 4.59), (-0.473, 4.43), (-0.525, 4.46),
    (-0.553, 4.40), (-0.548, 4.21), (-0.45, 4.21), (-0.404, 4.43), (-0.364, 4.72), (-0.268, 4.76),
    (-0.226, 4.53), (-0.174, 4.69), (-0.133, 4.76), (-0.093, 4.85), (-0.116, 4.43), (-0.151, 4.34),
    (-0.191, 4.21), (-0.289, 4.18), (-0.358, 3.89), (-0.266, 3.79), (-0.22, 3.89), (-0.157, 4.02),
    (-0.105, 4.02), (-0.128, 3.66), (-0.18, 3.66), (-0.231, 3.54), (-0.266, 3.41), (-0.174, 3.28),
    (-0.128, 3.34), (-0.082, 3.02), (-0.093, 2.77), (-0.128, 2.90), (-0.174, 2.90), (-0.22, 3.02),
    (-0.272, 2.96), (-0.312, 2.77), (-0.323, 2.58), (-0.231, 2.77), (-0.214, 2.58), (-0.174, 2.58),
    (-0.128, 2.58), (-0.162, 2.45), (-0.203, 2.19), (-0.151, 2.13), (-0.116, 2.00), (-0.151, 1.68),
    (-0.174, 1.75), (-0.105, 1.81), (-0.082, 1.87), (-0.128, 1.62), (-0.105, 1.43), (-0.07, 1.30),
    (-0.036, 1.30), (-0.139, 1.30), (-0.174, 1.17), (-0.162, 0.98), (-0.116, 0.85), (-0.082, 0.72),
    (-0.116, 0.40), (-0.059, 0.66), (-0.024, 0.72), (-0.41, 3.09), (-0.41, 2.70), (-0.438, 3.38),
    (-0.715, 4.62), (-0.26, 1.78),
    (0.102, 3.86), (0.091, 3.54), (0.079, 3.09), (0.137, 2.90), (0.183, 2.38), (0.079, 2.13), (0.114, 1.36),
    (0.125, 1.17), (0.171, 1.68), (0.31, 2.90), (0.333, 3.76), (0.373, 3.76), (0.39, 4.53), (0.402, 4.24),
    (0.171, 2.64), (0.292, 2.54), (0.517, 5.55), (0.148, 5.77), (0.24, 2.19), (0.194, 2.83),
    (-0.49, 10.76), (-0.335, 10.22), (-0.258, 10.22), (-0.145, 10.04), (-0.274, 9.66), (-0.165, 9.15),
    (-0.542, 9.16), (-0.58, 8.86), (-0.421, 8.89), (-0.321, 8.87), (-0.157, 8.66), (-0.343, 8.59),
    (-0.22, 8.24), (-0.289, 8.08), (-0.323, 7.98), (-0.415, 7.76), (-0.36, 7.79), (-0.177, 7.42),
    (-0.352, 7.32), (-0.718, 7.30), (-0.498, 7.23), (-0.321, 6.82), (-0.274, 6.94), (-0.784, 6.64),
    (-0.22, 6.43), (-0.131, 6.42), (-0.133, 6.22), (-0.40, 6.16), (-0.258, 6.04), (-0.185, 5.97),
    (-0.11, 5.92), (-0.556, 5.81), (-0.312, 5.84),
    (0.321, 9.96), (0.405, 10.0), (0.551, 9.55), (0.39, 9.32), (0.603, 8.87), (0.235, 8.46), (0.379, 8.40),
    (0.49, 8.12), (0.522, 7.90), (0.189, 7.82), (0.181, 7.32), (0.384, 6.64), (0.137, 6.56), (0.183, 6.60),
    (0.217, 6.38), (0.315, 6.03),
    (-1.077, 9.99), (-1.218, 8.73), (-0.994, 7.62), (-0.908, 7.62), (-0.908, 6.64), (-0.797, 6.52),
    (-0.03, 0.5), (-0.05, 0.9), (-0.07, 0.6), (-0.09, 0.8), (-0.04, 1.1), (-0.06, 1.5), (-0.08, 1.2),
    (-0.10, 1.0), (-0.12, 1.2), (-0.13, 1.45), (-0.09, 1.75), (-0.14, 1.9), (-0.11, 2.3), (-0.16, 2.2),
    (-0.18, 2.4), (-0.14, 2.7), (-0.19, 2.7), (-0.12, 3.1), (-0.17, 3.1), (-0.21, 3.3), (-0.15, 3.5),
    (-0.24, 3.6), (-0.20, 4.0), (-0.25, 4.4), (-0.30, 4.9), (-0.23, 5.2), (-0.28, 5.6), (-0.35, 5.7),
    (-0.20, 6.3), (-0.30, 6.6), (-0.26, 7.1), (-0.38, 7.0), (-0.30, 7.6), (-0.24, 8.4), (-0.37, 8.6),
    (-0.17, 9.3), (-0.28, 9.5), (-0.40, 9.8), (-0.23, 10.5),
    (-0.045, 0.35), (-0.065, 0.45), (-0.085, 0.55), (-0.095, 1.35), (-0.11, 1.6), (-0.13, 1.75),
    (-0.15, 1.45), (-0.085, 2.15), (-0.105, 2.6), (-0.14, 2.35), (-0.17, 2.75), (-0.19, 3.0), (-0.2, 3.45),
    (-0.15, 3.8), (-0.18, 4.1), (-0.12, 4.25), (-0.21, 4.7), (-0.25, 5.05), (-0.16, 5.4), (-0.19, 5.75),
    (-0.22, 5.95), (-0.27, 6.3), (-0.34, 6.45), (-0.24, 6.7), (-0.28, 7.4), (-0.2, 7.9), (-0.35, 8.2),
    (-0.26, 8.9), (-0.2, 9.7), (-0.32, 9.3),
]

# significant in both
black_pts = [
    (0.223, 5.65), (0.29, 5.10), (0.128, 4.60), (0.235, 3.57), (0.091, 2.45), (0.181, 2.48), (0.102, 1.78),
    (0.114, 1.71), (0.108, 1.55), (0.051, 1.06), (0.028, 0.50), (-0.021, 0.31), (-0.053, 0.88),
    (0.02, 0.21), (0.002, 0.02), (-0.458, 10.73), (-0.375, 9.10), (-0.732, 8.30), (0.453, 11.24),
    (0.373, 8.41), (0.319, 8.09), (0.35, 7.90), (0.269, 7.50), (0.327, 6.97), (0.235, 6.78), (0.344, 6.29),
    (0.235, 6.22), (0.229, 6.03),
]

# labelled genes
gene_names = ["IGHV2\u221270", "IGLV3\u22129", "GRAP", "AC073857.1", "DAPK1", "AC106865.1", "TRAC",
              "CD3E", "SIRPG", "FOXP1", "PCED1B", "TRBC2", "CD27", "TRBC1", "TSPYL2", "HLA\u2212DOB",
              "AEBP1", "TRBV27", "ZNF512", "PEA15", "NOTCH1", "LILRB1", "ZEB2", "PLXNB2", "TTYH3",
              "RASSF4", "STARD8"]
gene_lfc = [-1.877, -1.298, -0.449, -0.425, 0.525, 1.246, -0.383, -0.30, -0.331, -0.311, -0.304,
            -0.411, -0.376, -0.376, -0.259, -0.566, -0.407, -0.431, -0.214, 0.238, 0.407, 0.442,
            0.445, 0.514, 0.366, 0.283, 0.462]
gene_p = [17.74, 17.74, 17.74, 17.61, 17.74, 17.74, 16.84, 13.06, 13.03, 13.12, 12.64, 13.10, 12.85,
          12.51, 12.56, 12.24, 12.24, 11.66, 13.10, 12.81, 12.79, 13.12, 12.79, 11.26, 11.97, 11.97,
          11.74]
gene_group = ["ns", "ns", "ns", "ns", "inc", "ns", "inc", "inc", "inc", "both", "inc", "inc", "inc",
              "inc", "inc", "inc", "inc", "inc", "rapid", "inc", "rapid", "inc", "inc", "inc", "inc",
              "inc", "inc"]

# ---------------- layout / style ----------------
W, H = 1297, 1139
group_col = {"ns": "#BEBEBE", "inc": "red", "rapid": "blue", "both": "black"}
group_alpha = {"ns": 0.5, "inc": 0.5, "rapid": 0.5, "both": 0.6}
PT_SIZE = 80
CORE_ALPHA = 0.7  # the bulk is heavily overplotted in the original

# text centres for the gene labels (lfc, p), and where the leader line leaves the text box
label_at = {
    "IGHV2\u221270": (-1.971, 17.30, None), "IGLV3\u22129": (-1.387, 17.30, None),
    "GRAP": (-0.542, 18.19, None), "AC073857.1": (-0.152, 17.23, None),
    "DAPK1": (0.607, 18.13, None), "AC106865.1": (1.16, 17.32, None),
    "TRAC": (-0.476, 16.42, None), "CD3E": (-0.055, 15.61, (0.45, 0.0)),
    "FOXP1": (-0.221, 14.92, (0.5, 0.0)), "ZNF512": (0.128, 14.79, (0.0, 0.4)),
    "SIRPG": (-0.542, 14.31, (1.0, 0.3)), "PCED1B": (-0.107, 14.10, (0.0, 0.5)),
    "NOTCH1": (0.528, 14.27, (0.5, 0.0)), "TRBC2": (-0.825, 13.54, (1.0, 0.3)),
    "PEA15": (0.269, 13.60, (0.5, 0.0)), "LILRB1": (0.759, 13.50, (0.0, 0.5)),
    "TSPYL2": (0.01, 12.91, (0.0, 0.4)), "CD27": (-0.887, 12.66, (1.0, 0.5)),
    "TRBC1": (-0.556, 12.56, None), "ZEB2": (0.314, 12.53, None),
    "PLXNB2": (0.649, 12.41, None), "TTYH3": (1.125, 12.24, (0.0, 0.5)),
    "HLA\u2212DOB": (-1.032, 11.93, (1.0, 0.5)), "AEBP1": (-0.645, 11.86, (1.0, 0.6)),
    "RASSF4": (-0.014, 11.93, (1.0, 0.5)), "STARD8": (0.777, 11.84, (0.0, 0.55)),
    "TRBV27": (-0.749, 11.11, (1.0, 0.65)),
}
LABEL_DROP = 0.055  # matplotlib centres on the full box, nudge down to the glyph centre

fig = plt.figure(figsize=(W / 100, H / 100), dpi=100)
ax = fig.add_axes([20 / W, 72 / H, 1275 / W, 1017 / H])

# build the grey bulk from the rows
cx, cy = [], []
for rows_p, rows in [(core_p, core_left), (core_p, core_right),
                     (core2_p, core2_left), (core2_p, core2_right)]:
    for p, xs in zip(rows_p, rows):
        cx += xs
        cy += [p] * len(xs)
grey_arr = np.array(grey_pts)

ax.scatter(cx, cy, s=PT_SIZE, c="#BEBEBE", alpha=CORE_ALPHA, linewidths=0, zorder=2)
ax.scatter(grey_arr[:, 0], grey_arr[:, 1], s=PT_SIZE, c="#BEBEBE", alpha=0.5, linewidths=0, zorder=2)
for pts, grp in [(blue_pts, "rapid"), (red_pts, "inc"), (black_pts, "both")]:
    a = np.array(pts)
    ax.scatter(a[:, 0], a[:, 1], s=PT_SIZE, c=group_col[grp], alpha=group_alpha[grp],
               linewidths=0, zorder=2)
for x, y, g in zip(gene_lfc, gene_p, gene_group):
    ax.scatter([x], [y], s=PT_SIZE, c=group_col[g], alpha=group_alpha[g], linewidths=0, zorder=2)

ax.axhline(10, color="black", lw=2.0, ls=(0, (1, 2.2)), zorder=3)

# gene labels with leader lines
for name, x, y, g in zip(gene_names, gene_lfc, gene_p, gene_group):
    tx, ty, rel = label_at[name]
    ty -= LABEL_DROP
    col = group_col[g]
    if rel is None:
        ax.text(tx, ty, name, color=col, fontsize=16.5, ha="center", va="center", zorder=5)
    else:
        ax.annotate(name, xy=(x, y), xytext=(tx, ty), color=col, fontsize=16.5,
                    ha="center", va="center", zorder=5,
                    arrowprops=dict(arrowstyle="-", color=col, lw=1.6, shrinkA=0, shrinkB=0,
                                    relpos=rel))

# axes styling (theme_bw look)
ax.set_xlim(-2.2, 2.2)
ax.set_ylim(-0.887, 18.627)
ax.set_xticks([-2, -1, 0, 1, 2])
ax.set_xticks([-1.5, -0.5, 0.5, 1.5], minor=True)
ax.set_yticks([0, 5, 10, 15])
ax.set_yticks([2.5, 7.5, 12.5, 17.5], minor=True)
ax.grid(which="major", color="#EBEBEB", lw=1.3, zorder=0)
ax.grid(which="minor", color="#EBEBEB", lw=0.7, zorder=0)
ax.set_axisbelow(True)
for sp in ax.spines.values():
    sp.set_color("#333333")
    sp.set_linewidth(1.4)
ax.tick_params(which="major", length=3.6, width=1.0, color="#333333", labelcolor="#4D4D4D",
               labelsize=16.7)
ax.tick_params(axis="x", which="major", pad=5.5)
ax.tick_params(axis="y", which="major", pad=4.7)
ax.tick_params(which="minor", length=0)
ax.set_xlabel(r"$\mathregular{log_2}$ Fold Change", fontsize=20.9, labelpad=4)

# titles over the panel
fig.text(17 / W, 1 - 36 / H, "Upregulated in Rapid", fontsize=20.9, ha="left", va="baseline")
fig.text(1288 / W, 1 - 36 / H, "Upregulated in Increasing", fontsize=20.9, ha="right", va="baseline")

# preprint watermark stamped over the figure
WM = 15.4
renderer = fig.canvas.get_renderer()


def run_width(s, weight):
    t = fig.text(0, 0, s + "|", fontsize=WM, fontweight=weight)
    b = fig.text(0, 0, "|", fontsize=WM, fontweight=weight)
    w = t.get_window_extent(renderer).width - b.get_window_extent(renderer).width
    t.remove()
    b.remove()
    return w


def text_run(x_px, base_px, parts):
    x = x_px
    for s, col, weight in parts:
        fig.text(x / W, 1 - base_px / H, s, color=col, fontsize=WM, fontweight=weight,
                 ha="left", va="baseline", zorder=6)
        x += run_width(s, weight)


text_run(60, 176, [("medRxiv preprint doi: ", "black", "normal"),
                   ("https://doi.org/10.1101/2023.03.22.23287261", "blue", "normal"),
                   ("; this version posted March 28, 2023. The copyright holder for this",
                    "black", "normal")])
text_run(58, 197, [("preprint  ", "black", "normal"),
                   ("(which was not certified by peer review)", "blue", "bold"),
                   (" is the author/funder, who has granted medRxiv a license to display the preprint in",
                    "black", "normal")])
text_run(634, 218, [("perpetuity.", "black", "normal")])
text_run(399, 239, [("It is made available under a ", "black", "normal"),
                    ("CC-BY 4.0 International license", "blue", "normal"),
                    (" .", "black", "normal")])

fig.savefig("out.png", dpi=100)
